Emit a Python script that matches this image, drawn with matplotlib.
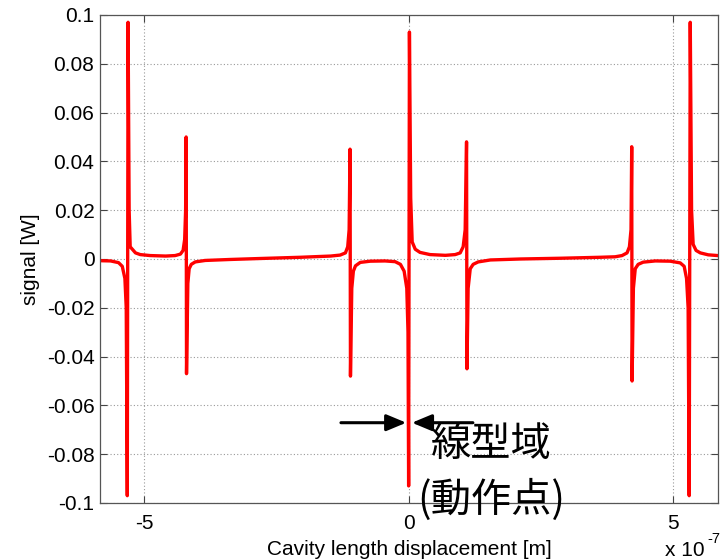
import numpy as np
import matplotlib.pyplot as plt

plt.rcParams['font.family'] = ['Liberation Sans', 'DejaVu Sans']
plt.rcParams['axes.unicode_minus'] = False

# cavity length displacement, in units of 1e-7 m
x_disp = [
    -5.84, -5.64, -5.49, -5.42, -5.37, -5.345, -5.325, -5.31, -5.29, -5.27,
    -5.21, -5.17, -5.08, -4.89, -4.60, -4.42, -4.32, -4.27, -4.24, -4.222,
    -4.212, -4.205, -4.18, -4.155, -4.115, -4.04, -3.85, -3.38, -2.81, -2.05,
    -1.48, -1.30, -1.20, -1.157, -1.13, -1.113, -1.105, -1.08, -1.05, -1.01,
    -0.92, -0.73, -0.45, -0.26, -0.16, -0.09, -0.04, -0.017, -0.005, 0.01,
    0.034, 0.062, 0.12, 0.21, 0.40, 0.69, 0.875, 0.97, 1.026, 1.064,
    1.09, 1.098, 1.12, 1.16, 1.215, 1.31, 1.54, 2.11, 2.86, 3.62,
    3.90, 4.03, 4.125, 4.17, 4.20, 4.213, 4.22, 4.245, 4.28, 4.335,
    4.43, 4.66, 4.94, 5.13, 5.205, 5.25, 5.28, 5.30, 5.32, 5.345,
    5.375, 5.43, 5.51, 5.66, 5.84,
]
# demodulated signal [W]
signal = [
    -0.0007, -0.0008, -0.0015, -0.003, -0.008, -0.02, -0.097, 0.097, 0.02, 0.005,
    0.0035, 0.0025, 0.0018, 0.0014, 0.0012, 0.0014, 0.002, 0.0035, 0.008, 0.02,
    0.050, -0.047, -0.01, -0.004, -0.0022, -0.0012, -0.0006, -0.0002, 0.0002, 0.0007,
    0.0012, 0.0016, 0.0025, 0.005, 0.012, 0.045, -0.048, -0.012, -0.005, -0.0028,
    -0.0014, -0.0009, -0.0008, -0.0011, -0.0022, -0.005, -0.012, -0.03, -0.093, 0.093,
    0.025, 0.007, 0.004, 0.0027, 0.0018, 0.0015, 0.0018, 0.0025, 0.005, 0.012,
    0.048, -0.045, -0.012, -0.004, -0.0022, -0.0012, -0.0004, 0.0, 0.0003, 0.0007,
    0.0009, 0.0014, 0.0025, 0.005, 0.012, 0.046, -0.050, -0.012, -0.004, -0.0022,
    -0.0013, -0.0008, -0.0009, -0.0016, -0.003, -0.008, -0.02, -0.097, 0.097, 0.02,
    0.006, 0.0035, 0.0025, 0.0017, 0.0014,
]

x_ticks = [-5, 0, 5]
y_ticks = [-0.1, -0.08, -0.06, -0.04, -0.02, 0, 0.02, 0.04, 0.06, 0.08, 0.1]

fig = plt.figure(figsize=(7.25, 5.59), dpi=100)
ax = fig.add_axes([0.138, 0.1002, 0.852, 0.873])

ax.plot(np.array(x_disp) * 1e-7, signal, color='#ff0000', lw=2.4)

ax.set_xlim(-5.84e-7, 5.84e-7)
ax.set_ylim(-0.1, 0.1)
ax.set_xticks([t * 1e-7 for t in x_ticks])
ax.set_xticklabels([str(t) for t in x_ticks])
ax.set_yticks(y_ticks)
ax.set_yticklabels(['%g' % t for t in y_ticks])
ax.tick_params(direction='in', top=True, right=True, length=5, width=0.8,
               labelsize=15, colors='#444444', labelcolor='black')
ax.tick_params(axis='x', pad=8)
ax.tick_params(axis='y', pad=4)
ax.grid(True, color='#999999', linestyle=(0, (1, 2)), lw=0.8)
for sp in ax.spines.values():
    sp.set_color('#555555')
    sp.set_linewidth(0.9)

ax.set_xlabel('Cavity length displacement [m]', fontsize=15, labelpad=5)
ax.set_ylabel('signal [W]', fontsize=15, labelpad=5)

# exponent for the x axis
fig.text(665 / 725, 1 - 551 / 559, 'x 10', fontsize=15, ha='left', va='center')
fig.text(707 / 725, 1 - 539 / 559, '-7', fontsize=10.5, ha='left', va='center')

# arrows marking the linear region around the operating point
arrow = dict(arrowstyle='-|>,head_length=0.6,head_width=0.25', lw=2.2,
             color='black', mutation_scale=20, shrinkA=0, shrinkB=0)
ax.annotate('', xy=(-0.05e-7, -0.0671), xytext=(-1.285e-7, -0.0671), arrowprops=arrow)
ax.annotate('', xy=(0.057e-7, -0.0671), xytext=(1.21e-7, -0.0671), arrowprops=arrow)

jp = ['Noto Sans CJK JP', 'DejaVu Sans']
ax.text(1.556e-7, -0.0762, '線型域', family=jp, fontsize=29, ha='center', va='center')
ax.text(1.556e-7, -0.0988, '(動作点)', family=jp, fontsize=29, ha='center', va='center')

fig.savefig('out.png', dpi=100)
